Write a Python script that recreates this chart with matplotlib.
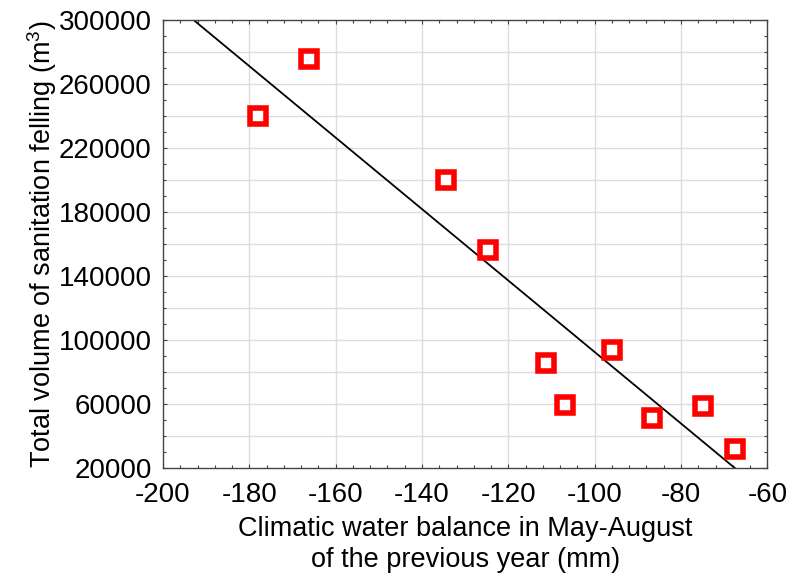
import numpy as np
import matplotlib.pyplot as plt
from matplotlib.ticker import MultipleLocator

plt.rcParams['font.family'] = ['Liberation Sans', 'DejaVu Sans']
plt.rcParams['mathtext.fontset'] = 'custom'
plt.rcParams['mathtext.rm'] = 'Liberation Sans'
plt.rcParams['axes.unicode_minus'] = False

# climatic water balance (mm) vs. sanitation felling volume (m3)
water_balance = [-178.1, -166.1, -134.5, -124.6, -111.2, -106.8, -96.0, -86.8, -75.0, -67.4]
felling_volume = [240000, 276000, 200000, 156000, 85500, 59500, 94000, 51000, 58500, 32000]

x_ticks = np.arange(-200, -59, 20)
y_ticks = np.arange(20000, 300001, 40000)

fig = plt.figure(figsize=(8.02, 5.75), dpi=100)
ax = fig.add_axes([0.2032, 0.186, 0.7536, 0.779])

# least-squares fit line
slope, intercept = np.polyfit(water_balance, felling_volume, 1)
xs = np.array([-200, -60])
ax.plot(xs, slope * xs + intercept, color='black', lw=1.3, zorder=2)

ax.plot(water_balance, felling_volume, ls='none', marker='s', markersize=11,
        markerfacecolor='white', markeredgecolor='#ff0000', markeredgewidth=4,
        zorder=3)

ax.set_xlim(-200, -60)
ax.set_ylim(20000, 300000)
ax.set_xticks(x_ticks)
ax.set_yticks(y_ticks)
ax.xaxis.set_minor_locator(MultipleLocator(4))
ax.yaxis.set_minor_locator(MultipleLocator(10000))

# grid every 20 mm and every 20000 m3
for gx in np.arange(-180, -60, 20):
    ax.axvline(gx, color='#dcdcdc', lw=1.0, zorder=0)
for gy in np.arange(40000, 300000, 20000):
    ax.axhline(gy, color='#dcdcdc', lw=1.0, zorder=0)

ax.tick_params(which='both', direction='in', top=True, right=True,
               color='#444444', width=0.8)
ax.tick_params(which='major', length=3, labelsize=20)
ax.tick_params(axis='x', which='major', pad=10)
ax.tick_params(axis='y', which='major', pad=8)
ax.tick_params(which='minor', length=2.5)
for sp in ax.spines.values():
    sp.set_color('#444444')
    sp.set_linewidth(1.0)

ax.set_xlabel('Climatic water balance in May-August\nof the previous year (mm)',
              fontsize=19.5, labelpad=6, linespacing=1.25)
ax.set_ylabel('Total volume of sanitation felling (m$^3$)', fontsize=19.5, labelpad=0)

fig.savefig('out.png', dpi=100)
